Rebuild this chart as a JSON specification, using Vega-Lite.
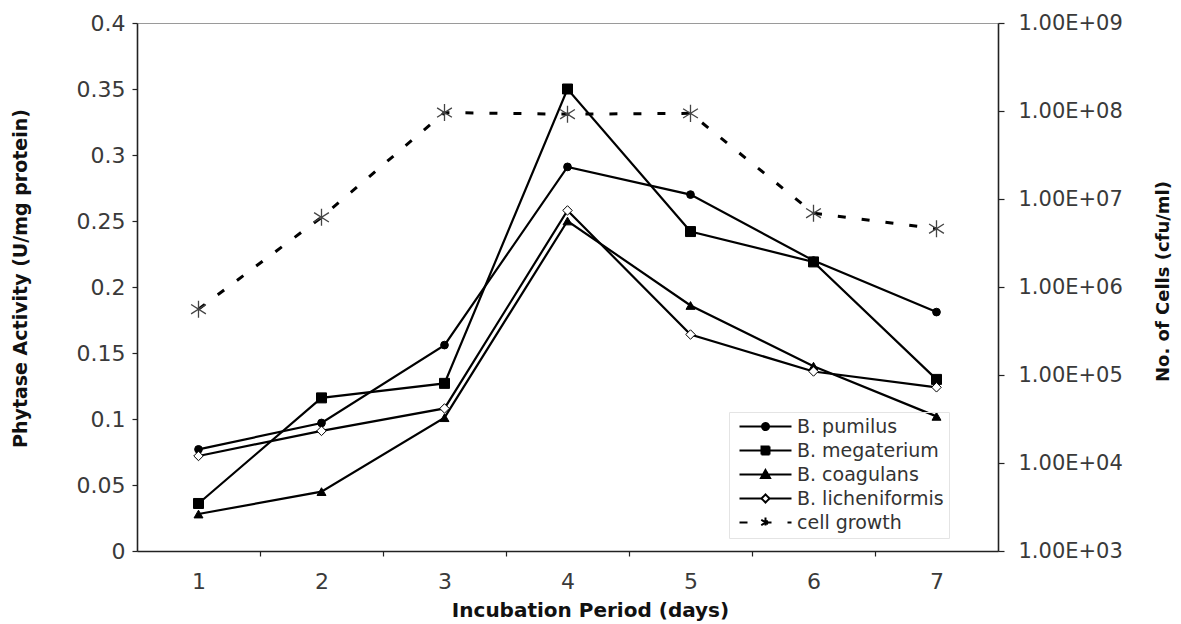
{
  "$schema": "https://vega.github.io/schema/vega-lite/v6.json",
  "width": 861,
  "height": 528,
  "autosize": "none",
  "padding": {"left": 137, "top": 23, "right": 183, "bottom": 73},
  "background": "white",
  "config": {
    "font": "DejaVu Sans",
    "view": {"stroke": "#9a9a9a", "strokeWidth": 1},
    "axis": {
      "grid": false,
      "domainColor": "#222",
      "domainWidth": 1.6,
      "tickColor": "#222",
      "tickWidth": 1.2,
      "labelFont": "DejaVu Sans",
      "labelFontSize": 22,
      "labelColor": "#3a3a3a",
      "titleFont": "DejaVu Sans",
      "titleFontSize": 18,
      "titleFontWeight": "bold",
      "titleColor": "#111"
    },
    "legend": {
      "title": null,
      "orient": "none",
      "legendX": 592,
      "legendY": 389,
      "padding": 5,
      "strokeColor": "#e4e4e4",
      "symbolSize": 100,
      "symbolOpacity": 1,
      "symbolStrokeWidth": 2,
      "symbolOffset": 22,
      "labelOffset": 22,
      "rowPadding": 4,
      "labelFont": "DejaVu Sans",
      "labelFontSize": 19,
      "labelColor": "#333"
    }
  },
  "data": {
    "values": [
      {"day": 1, "series": "B. pumilus", "activity": 0.077},
      {"day": 2, "series": "B. pumilus", "activity": 0.097},
      {"day": 3, "series": "B. pumilus", "activity": 0.156},
      {"day": 4, "series": "B. pumilus", "activity": 0.291},
      {"day": 5, "series": "B. pumilus", "activity": 0.270},
      {"day": 6, "series": "B. pumilus", "activity": 0.220},
      {"day": 7, "series": "B. pumilus", "activity": 0.181},
      {"day": 1, "series": "B. megaterium", "activity": 0.036},
      {"day": 2, "series": "B. megaterium", "activity": 0.116},
      {"day": 3, "series": "B. megaterium", "activity": 0.127},
      {"day": 4, "series": "B. megaterium", "activity": 0.350},
      {"day": 5, "series": "B. megaterium", "activity": 0.242},
      {"day": 6, "series": "B. megaterium", "activity": 0.219},
      {"day": 7, "series": "B. megaterium", "activity": 0.130},
      {"day": 1, "series": "B. coagulans", "activity": 0.028},
      {"day": 2, "series": "B. coagulans", "activity": 0.045},
      {"day": 3, "series": "B. coagulans", "activity": 0.101},
      {"day": 4, "series": "B. coagulans", "activity": 0.250},
      {"day": 5, "series": "B. coagulans", "activity": 0.186},
      {"day": 6, "series": "B. coagulans", "activity": 0.140},
      {"day": 7, "series": "B. coagulans", "activity": 0.102},
      {"day": 1, "series": "B. licheniformis", "activity": 0.072},
      {"day": 2, "series": "B. licheniformis", "activity": 0.091},
      {"day": 3, "series": "B. licheniformis", "activity": 0.108},
      {"day": 4, "series": "B. licheniformis", "activity": 0.258},
      {"day": 5, "series": "B. licheniformis", "activity": 0.164},
      {"day": 6, "series": "B. licheniformis", "activity": 0.136},
      {"day": 7, "series": "B. licheniformis", "activity": 0.124},
      {"day": 1, "series": "cell growth", "cells": 560000},
      {"day": 2, "series": "cell growth", "cells": 6200000},
      {"day": 3, "series": "cell growth", "cells": 96000000},
      {"day": 4, "series": "cell growth", "cells": 92000000},
      {"day": 5, "series": "cell growth", "cells": 94000000},
      {"day": 6, "series": "cell growth", "cells": 6900000},
      {"day": 7, "series": "cell growth", "cells": 4600000}
    ]
  },
  "encoding": {
    "x": {
      "field": "day",
      "type": "quantitative",
      "scale": {"domain": [0.5, 7.5], "nice": false, "zero": false},
      "axis": {
        "title": "Incubation Period (days)",
        "titleFontSize": 20,
        "titleX": 453,
        "titleY": 59,
        "titleAlign": "center",
        "titleBaseline": "middle",
        "values": [1, 1.5, 2, 2.5, 3, 3.5, 4, 4.5, 5, 5.5, 6, 6.5, 7],
        "labelExpr": "datum.value % 1 === 0 ? format(datum.value, 'd') : ''",
        "tickSize": 5,
        "labelPadding": 15,
        "tickOpacity": {"condition": {"test": "datum.value % 1 === 0", "value": 0}, "value": 1},
        "encode": {"ticks": {"y2": {"value": -5}}}
      }
    }
  },
  "layer": [
    {
      "transform": [{"filter": "datum.series !== 'cell growth'"}],
      "encoding": {
        "y": {
          "field": "activity",
          "type": "quantitative",
          "scale": {"domain": [0, 0.4], "nice": false},
          "axis": {
            "title": "Phytase Activity (U/mg protein)",
            "titleFontSize": 19,
            "titleX": -117,
            "titleY": 255,
            "titleAngle": 270,
            "titleAlign": "center",
            "titleBaseline": "middle",
            "values": [0, 0.05, 0.1, 0.15, 0.2, 0.25, 0.3, 0.35, 0.4],
            "format": "~g",
            "tickSize": 5,
            "labelPadding": 7,
            "encode": {"ticks": {"x2": {"value": 5}}}
          }
        }
      },
      "layer": [
        {
          "mark": {"type": "line", "color": "black"},
          "encoding": {
            "detail": {"field": "series", "type": "nominal"},
            "strokeWidth": {
              "field": "series",
              "type": "nominal",
              "scale": {"domain": ["B. pumilus", "B. megaterium", "B. coagulans", "B. licheniformis"], "range": [2.2, 2.2, 2.2, 1.4]},
              "legend": null
            }
          }
        },
        {
          "transform": [{"filter": "datum.series === 'B. pumilus'"}],
          "mark": {"type": "point", "shape": "circle", "size": 60, "filled": true, "fill": "black", "stroke": "black", "strokeWidth": 1, "opacity": 1}
        },
        {
          "transform": [{"filter": "datum.series === 'B. megaterium'"}],
          "mark": {"type": "point", "shape": "square", "size": 100, "filled": true, "fill": "black", "stroke": "black", "strokeWidth": 1, "opacity": 1}
        },
        {
          "transform": [{"filter": "datum.series === 'B. coagulans'"}],
          "mark": {"type": "point", "shape": "triangle-up", "size": 80, "filled": true, "fill": "black", "stroke": "black", "strokeWidth": 1, "opacity": 1}
        },
        {
          "transform": [{"filter": "datum.series === 'B. licheniformis'"}],
          "mark": {"type": "point", "shape": "diamond", "size": 90, "filled": true, "fill": "white", "stroke": "black", "strokeWidth": 1, "opacity": 1}
        },
        {
          "mark": {"type": "point", "filled": true, "size": 100, "opacity": 0, "stroke": "black", "strokeWidth": 2},
          "encoding": {
            "shape": {
              "field": "series",
              "type": "nominal",
              "scale": {
                "domain": ["B. pumilus", "B. megaterium", "B. coagulans", "B. licheniformis", "cell growth"],
                "range": [
                  "M-5.2,0H5.2M-0.7,0A0.7,0.7 0 1,0 0.7,0A0.7,0.7 0 1,0 -0.7,0Z",
                  "M-5.2,0H5.2M-0.8,-0.8H0.8V0.8H-0.8Z",
                  "M-5.2,0H5.2M0,-0.9L0.9,0.7H-0.9Z",
                  "M-5.2,0H-0.8M0.8,0H5.2M0,-0.8L0.8,0L0,0.8L-0.8,0Z",
                  "M-5.2,0H5.2M0,-1V1M-0.85,-0.55L0.85,0.55M-0.85,0.55L0.85,-0.55"
                ]
              }
            },
            "color": {
              "field": "series",
              "type": "nominal",
              "scale": {
                "domain": ["B. pumilus", "B. megaterium", "B. coagulans", "B. licheniformis", "cell growth"],
                "range": ["black", "black", "black", "white", "black"]
              }
            },
            "strokeDash": {
              "field": "series",
              "type": "nominal",
              "scale": {
                "domain": ["B. pumilus", "B. megaterium", "B. coagulans", "B. licheniformis", "cell growth"],
                "range": [[1, 0], [1, 0], [1, 0], [1, 0], [8, 16]]
              }
            }
          }
        }
      ]
    },
    {
      "transform": [{"filter": "datum.series === 'cell growth'"}],
      "encoding": {
        "y": {
          "field": "cells",
          "type": "quantitative",
          "scale": {"type": "log", "domain": [1000, 1000000000], "nice": false},
          "axis": {
            "orient": "right",
            "title": "No. of Cells (cfu/ml)",
            "titleX": 165,
            "titleY": 258,
            "titleAngle": 270,
            "titleAlign": "center",
            "titleBaseline": "middle",
            "values": [1000, 10000, 100000, 1000000, 10000000, 100000000, 1000000000],
            "labelExpr": "'1.00E+0' + format(log(datum.value) / LN10, '.0f')",
            "labelFontSize": 21,
            "tickSize": 6,
            "labelPadding": 14,
            "encode": {"ticks": {"x": {"value": -6}}}
          }
        }
      },
      "layer": [
        {
          "mark": {"type": "line", "color": "black", "strokeWidth": 3, "strokeDash": [8, 16]},
          "encoding": {}
        },
        {
          "mark": {
            "type": "point",
            "shape": "M0,-1V1M-0.87,-0.55L0.87,0.55M-0.87,0.55L0.87,-0.55",
            "size": 290,
            "filled": false,
            "stroke": "#444",
            "strokeWidth": 1.3,
            "opacity": 1
          }
        }
      ]
    }
  ],
  "resolve": {"scale": {"y": "independent"}}
}
